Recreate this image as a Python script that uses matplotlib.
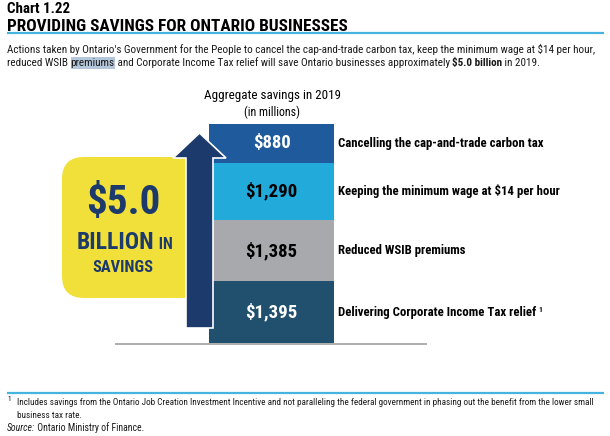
import matplotlib
matplotlib.use("Agg")
import matplotlib.pyplot as plt
from matplotlib.patches import FancyBboxPatch, Polygon, Rectangle

# chart data, bottom segment first
categories = [
    "Delivering Corporate Income Tax relief",
    "Reduced WSIB premiums",
    "Keeping the minimum wage at \\$14 per hour",
    "Cancelling the cap-and-trade carbon tax",
]
savings = [1395, 1385, 1290, 880]
seg_colors = ["#21506e", "#a7a9ac", "#22aadb", "#1f5a9c"]
value_colors = ["white", "black", "black", "white"]
footnote_on = [True, False, False, False]

NARROW = ["Roboto Condensed", "DejaVu Sans"]

NAVY = "#1d3a6c"
SKY = "#45b4e0"
YELLOW = "#f2e03a"

fig = plt.figure(figsize=(6.10, 4.36), dpi=100)
renderer = fig.canvas.get_renderer()

# stacked bar, in its own axes so the library does the scaling
bar_ax = fig.add_axes([209 / 610, 93 / 436, 125 / 610, 219 / 436], zorder=1)
total = sum(savings)
bottom = 0
for cat, val, col, tcol, fn in zip(categories, savings, seg_colors, value_colors, footnote_on):
    bar_ax.bar(0, val, bottom=bottom, width=1, color=col, linewidth=0)
    mid = bottom + val / 2
    bar_ax.text(0, mid, "\\$" + format(val, ","), ha="center", va="center",
                color=tcol, fontsize=13.5, fontweight="bold", family=NARROW)
    lab = bar_ax.annotate(cat, xy=(0.5, mid), xytext=(4, 0), textcoords="offset pixels",
                          ha="left", va="center", fontsize=9.2, fontweight="bold",
                          family=NARROW, color="black", annotation_clip=False)
    if fn:
        bb = lab.get_window_extent(renderer)
        bar_ax.annotate("1", xy=(0.5, mid), xytext=(4 + bb.width + 2, 3),
                        textcoords="offset pixels", ha="left", va="center",
                        fontsize=5.5, fontweight="bold", family=NARROW,
                        annotation_clip=False)
    bottom += val
bar_ax.set_xlim(-0.5, 0.5)
bar_ax.set_ylim(0, total)
bar_ax.axis("off")

# overlay in pixel coordinates for the page furniture
ov = fig.add_axes([0, 0, 1, 1], zorder=2)
ov.set_xlim(0, 610)
ov.set_ylim(436, 0)
ov.axis("off")
ov.patch.set_alpha(0)


def text_width(s, **kw):
    t1 = ov.text(0, 0, "|" + s + "|", **kw)
    t2 = ov.text(0, 0, "||", **kw)
    w = t1.get_window_extent(renderer).width - t2.get_window_extent(renderer).width
    t1.remove()
    t2.remove()
    return w


def draw_runs(x, y, pieces, **base):
    for s, extra in pieces:
        kw = dict(base)
        kw.update(extra)
        hl = kw.pop("highlight", None)
        w = text_width(s, **kw)
        if hl:
            ov.add_patch(Rectangle((x, y - 9), w, 12, color=hl, lw=0, zorder=0))
        ov.text(x, y, s, va="baseline", ha="left", **kw)
        x += w


ov.text(7, 13, "Chart 1.22", fontsize=10.8, fontweight="bold", family=NARROW, va="baseline")
ov.text(7, 31, "PROVIDING SAVINGS FOR ONTARIO BUSINESSES", fontsize=12.4,
        fontweight="bold", family=NARROW, va="baseline")
ov.plot([7, 604], [33.5, 33.5], color=SKY, lw=1.6, solid_capstyle="butt")

body = dict(fontsize=8.05, family=NARROW, color="#1a1a1a")
draw_runs(7, 53, [("Actions taken by Ontario's Government for the People to cancel the "
                   "cap-and-trade carbon tax, keep the minimum wage at \\$14 per hour,", {})], **body)
draw_runs(7, 66, [("reduced WSIB ", {}), ("premiums", {"highlight": "#b3c6da"}),
                  (" and Corporate Income Tax relief will save Ontario businesses approximately ", {}),
                  ("\\$5.0 billion", {"fontweight": "bold"}), (" in 2019.", {})], **body)

ov.text(273, 95, "Aggregate savings in 2019", ha="center", va="center",
        fontsize=9.4, family=NARROW)
ov.text(272, 112, "(in millions)", ha="center", va="center", fontsize=8.6, family=NARROW)

# yellow callout box and arrow
ov.add_patch(FancyBboxPatch((62, 157), 142, 141, boxstyle="round,pad=0,rounding_size=22",
                            fc=YELLOW, ec="none", zorder=1))
ov.add_patch(Polygon([(199.5, 133), (226, 158), (213, 158), (213, 328), (186, 328),
                      (186, 158), (173, 158)], closed=True, fc=NAVY, ec="white",
                     lw=1.2, joinstyle="miter", zorder=3))
ov.text(123, 203, "\\$5.0", ha="center", va="center", fontsize=29.5, fontweight="bold",
        family=NARROW, color=NAVY, zorder=4)
draw_runs(77, 249, [("BILLION", {"fontsize": 17}), (" IN", {"fontsize": 11.5})],
          fontweight="bold", family=NARROW, color=NAVY, zorder=4)
ov.text(123, 267, "SAVINGS", ha="center", va="center", fontsize=11.8, fontweight="bold",
        family=NARROW, color=NAVY, zorder=4)

ov.plot([115, 427], [343.5, 343.5], color="#a0a0a0", lw=1.2, solid_capstyle="butt")

# footer
ov.plot([7, 604], [392.5, 392.5], color=SKY, lw=1.6, solid_capstyle="butt")
ov.text(7, 401, "1", fontsize=5, family=NARROW, va="baseline")
foot = dict(fontsize=6.6, family=NARROW, color="#1a1a1a", va="baseline")
ov.text(17, 405, "Includes savings from the Ontario Job Creation Investment Incentive and not "
        "paralleling the federal government in phasing out the benefit from the lower small", **foot)
ov.text(17, 418, "business tax rate.", **foot)
draw_runs(7, 431, [("Source:", {"style": "italic"}), (" Ontario Ministry of Finance.", {})],
          fontsize=7.0, family=NARROW, color="#1a1a1a")

fig.savefig("out.png", dpi=100)
